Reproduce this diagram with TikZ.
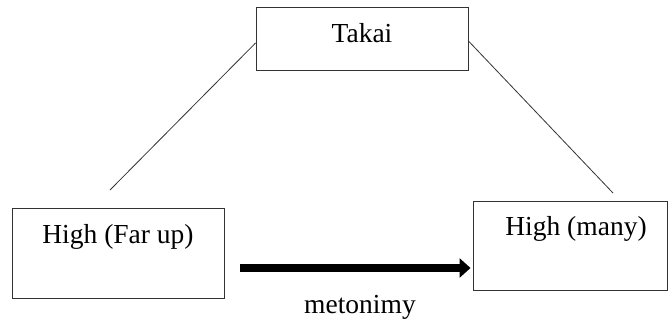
\documentclass[tikz,border=0pt]{standalone}
\usepackage{fontspec}
\setmainfont{Liberation Serif}
\usetikzlibrary{arrows.meta,calc}
\begin{document}
\begin{tikzpicture}[x=1pt,y=-1pt,
  box/.style={draw=black!80,line width=0.9pt,inner sep=0pt,font=\fontsize{27.5pt}{30pt}\selectfont},
  link/.style={draw=black!80,line width=0.8pt},
  bigarrow/.style={line width=8.5pt,-{Triangle[length=11pt,width=19pt]}}]
\useasboundingbox (0,0) rectangle (669,320);
\node[box,minimum width=212pt,minimum height=63pt,text height=20pt,text depth=12pt] (takai) at (362,38.5) {Takai};
\node[box,minimum width=212pt,minimum height=90pt,text height=20pt,text depth=38pt] (far) at (118,253) {High (Far up)};
\node[box,minimum width=194pt,minimum height=89pt,text height=20pt,text depth=39pt] (many) at (570,245.5) {\hspace*{12pt}High (many)};
\coordinate (lend) at (110,190);
\coordinate (rend) at (613,193);
\draw[link] ($(takai.west)+(0,4.5)$) -- (lend);
\draw[link] ($(takai.east)+(0,2.5)$) -- (rend);
\coordinate (ay) at (0,268);
\draw[bigarrow,shorten <=16pt,shorten >=2pt] (far.east |- ay) -- (many.west |- ay);
\node[font=\fontsize{27.5pt}{30pt}\selectfont,inner sep=0pt,anchor=base] (meto) at (360,313) {metonimy};
\end{tikzpicture}
\end{document}
